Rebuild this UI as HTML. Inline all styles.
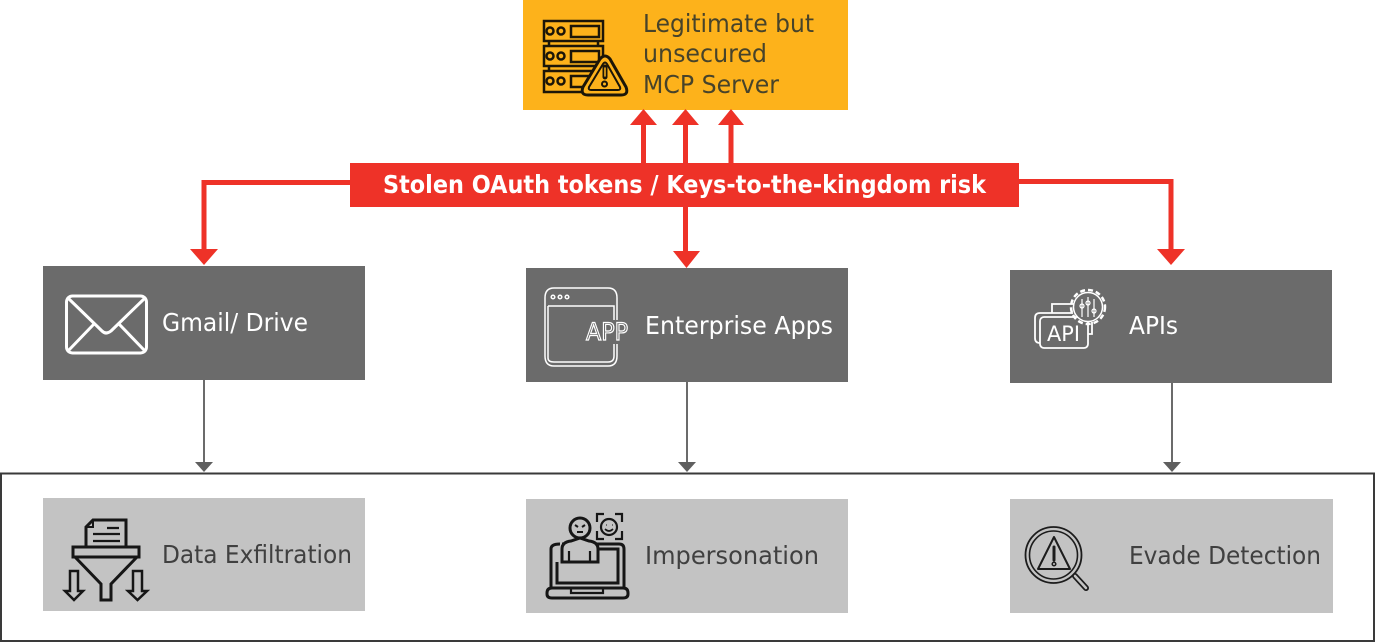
<!DOCTYPE html>
<html><head><meta charset="utf-8"><style>
html,body{margin:0;padding:0;background:#fff;width:1375px;height:642px;overflow:hidden}
svg{display:block}
text{font-family:"DejaVu Sans","Liberation Sans",sans-serif;font-size:25px}
</style></head><body>
<svg width="1375" height="642" viewBox="0 0 1375 642" xmlns="http://www.w3.org/2000/svg">
<rect width="1375" height="642" fill="#fff"/>
<!-- bottom frame -->
<rect x="1" y="473.500" width="1373" height="167.500" fill="none" stroke="#3a3a3a" stroke-width="2"/>
<!-- boxes -->
<rect x="523" y="0" width="325" height="110" fill="#fdb21b"/>
<rect x="43" y="266" width="322" height="114" fill="#6b6b6b"/>
<rect x="526" y="268" width="322" height="114" fill="#6b6b6b"/>
<rect x="1010" y="270" width="322" height="113" fill="#6b6b6b"/>
<rect x="43" y="498" width="322" height="113" fill="#c3c3c3"/>
<rect x="526" y="499" width="322" height="114" fill="#c3c3c3"/>
<rect x="1010" y="499" width="323" height="114" fill="#c3c3c3"/>
<!-- red connectors -->
<g fill="none" stroke="#ee3228" stroke-width="5">
<path d="M643.500 165V125M685.500 165V125M731 165V125"/>
<path d="M685.500 205V252"/>
<path d="M352 182.500H204V250"/>
<path d="M1017 181.500H1171V250"/>
</g>
<g fill="#ee3228">
<path d="M630 125L643.500 109L657 125Z"/>
<path d="M672 125L685.500 109L699 125Z"/>
<path d="M718 125L731 109L744 125Z"/>
<path d="M190 249L204 265L218 249Z"/>
<path d="M673 251L686.500 268L700 251Z"/>
<path d="M1157 249L1171 265L1185 249Z"/>
<rect x="350" y="163" width="669" height="44"/>
</g>
<!-- grey connectors -->
<g stroke="#6b6b6b" stroke-width="2" fill="none">
<path d="M204 380V463M687 382V463M1172 383V463"/>
</g>
<g fill="#5f5f5f">
<path d="M195 462H213L204 472Z"/>
<path d="M678 462H696L687 472Z"/>
<path d="M1163 462H1181L1172 472Z"/>
</g>
<!-- labels -->
<text x="383" y="193" fill="#fff" font-weight="bold" textLength="603" lengthAdjust="spacingAndGlyphs">Stolen OAuth tokens / Keys-to-the-kingdom risk</text>
<g fill="#47432a">
<text x="643" y="32" textLength="171" lengthAdjust="spacingAndGlyphs">Legitimate but</text>
<text x="643" y="62" textLength="124" lengthAdjust="spacingAndGlyphs">unsecured</text>
<text x="643" y="93" textLength="136" lengthAdjust="spacingAndGlyphs">MCP Server</text>
</g>
<g fill="#fff">
<text x="162" y="331" textLength="146" lengthAdjust="spacingAndGlyphs">Gmail/ Drive</text>
<text x="645" y="334" textLength="188" lengthAdjust="spacingAndGlyphs">Enterprise Apps</text>
<text x="1129" y="334" textLength="49" lengthAdjust="spacingAndGlyphs">APIs</text>
</g>
<g fill="#404040">
<text x="162" y="563" textLength="190" lengthAdjust="spacingAndGlyphs">Data Exfiltration</text>
<text x="645" y="564" textLength="174" lengthAdjust="spacingAndGlyphs">Impersonation</text>
<text x="1129" y="564" textLength="192" lengthAdjust="spacingAndGlyphs">Evade Detection</text>
</g>
<!-- server icon -->
<g fill="none" stroke="#1c1608" stroke-width="2.500">
<rect x="544" y="21" width="59" height="20"/>
<rect x="544" y="46" width="59" height="20"/>
<rect x="544" y="71" width="59" height="21"/>
<path d="M549 41v5M598 41v5M549 66v5M598 66v5"/>
<rect x="571" y="26" width="28" height="11"/>
<rect x="571" y="51" width="28" height="11"/>
<rect x="571" y="76" width="20" height="11"/>
<circle cx="550" cy="31" r="3.500"/><circle cx="561" cy="31" r="3.500"/>
<circle cx="550" cy="56" r="3.500"/><circle cx="561" cy="56" r="3.500"/>
<circle cx="550" cy="81" r="3.500"/><circle cx="561" cy="81" r="3.500"/>
<path d="M600 59Q605 53 610 59L626 87Q629 95 621 95H588Q580 95 583 87Z" fill="#fdb21b" stroke-width="3" stroke-linejoin="round"/>
<path d="M603 64Q605 61 607 64L620 87Q621 90 618 90H591Q588 90 589 87Z" stroke-width="2" stroke-linejoin="round"/>
<path d="M605 67V77" stroke-width="5" stroke-linecap="round"/>
<path d="M605 68V76" stroke-width="1.500" stroke="#fdb21b" stroke-linecap="round"/>
<circle cx="604.500" cy="84" r="2.500" stroke-width="2"/>
</g>
<!-- mail icon -->
<g fill="none" stroke="#fff" stroke-width="3" stroke-linecap="round" stroke-linejoin="round">
<rect x="66.500" y="296" width="80" height="57" rx="6"/>
<path d="M68 298L102 331Q106 335 111 331L145 298"/>
<path d="M68 351L94 324M145 351L119 324"/>
</g>
<!-- app icon -->
<g fill="none" stroke="#fff" stroke-width="1.500">
<path d="M617 320V298Q617 288 608 288H554Q545 288 545 298V356Q545 366 554 366H608Q617 366 617 356V344"/>
<path d="M548 306H614V320M548 306V358Q548 362 554 362H608Q614 362 614 356V344"/>
<circle cx="553" cy="297" r="1.800"/><circle cx="560" cy="297" r="1.800"/><circle cx="567" cy="297" r="1.800"/>
</g>
<text x="586" y="340" fill="#6b6b6b" stroke="#fff" stroke-width="1.200" style="font-size:24px" textLength="42" lengthAdjust="spacingAndGlyphs">APP</text>
<!-- api icon -->
<g fill="none" stroke="#fff" stroke-width="1.800">
<path d="M1040 343Q1035 343 1035 338V318Q1035 313 1040 313H1073"/>
<path d="M1052 313V304H1075"/>
<rect x="1040" y="317" width="48" height="31" rx="4"/>
<path d="M1092 322V334H1088"/>
</g>
<text x="1047" y="341" fill="#fff" style="font-size:21px" textLength="33" lengthAdjust="spacingAndGlyphs">API</text>
<g fill="#6b6b6b" stroke="#fff" stroke-width="1.500">
<circle cx="1088" cy="307" r="14.500"/>
</g>
<circle cx="1088" cy="307" r="17" fill="none" stroke="#fff" stroke-width="2.500" stroke-dasharray="5 3"/>
<g stroke="#fff" stroke-width="1.200" fill="none">
<path d="M1082 299V317M1088 297V317M1094 299V317"/>
<circle cx="1082" cy="306" r="2"/><circle cx="1088" cy="303" r="2"/><circle cx="1094" cy="311" r="2"/>
</g>
<!-- funnel icon -->
<g fill="none" stroke="#161616" stroke-width="3">
<path d="M86 527L93 520H126V547H86Z" fill="#c3c3c3"/>
<path d="M86 527H93V520" stroke-width="2"/>
<path d="M107 528H119M93 534H120M93 541H120" stroke-width="2.200"/>
<rect x="73" y="547" width="66" height="10"/>
<path d="M75 557L101 584V600H111V584L137 557"/>
<path d="M70 571H78V591H83L74 600L65 591H70Z" stroke-width="2.500"/>
<path d="M133 571H142V591H147L137.500 600L128 591H133Z" stroke-width="2.500"/>
</g>
<!-- impersonation icon -->
<g fill="none" stroke="#161616" stroke-width="3">
<path d="M562 544H619Q624 544 624 549V588"/>
<path d="M551 588V549Q551 544 560 544"/>
<path d="M557 562V583H618V549H598"/>
<path d="M552 588H623Q628 588 628 593V594Q628 598 623 598H552Q547 598 547 594V593Q547 588 552 588Z"/>
<path d="M571 589V593H603V589" stroke-width="2.200"/>
<path d="M562 562V549Q562 542 571 541L580 538L589 541Q598 542 598 549V562Z" fill="#c3c3c3"/>
<path d="M569 551V562M590 551V562" stroke-width="2.200"/>
<circle cx="580" cy="528" r="10"/>
<path d="M575 525L578 527M585 525L582 527M577 532H583" stroke-width="2"/>
<path d="M597 522V514H604M615 514H622V522M622 531V539H615M604 539H597V531" stroke-width="2.200"/>
<circle cx="609" cy="527" r="8" stroke-width="2.200"/>
<path d="M605 529Q609 533 613 529" stroke-width="1.600"/>
<path d="M606 525h.5M612 525h.5" stroke-width="2"/>
</g>
<!-- evade icon -->
<g fill="none" stroke="#1c1c1c">
<circle cx="1053.500" cy="555" r="28" stroke-width="1.800"/>
<circle cx="1053.500" cy="555" r="24" stroke-width="1.600"/>
<path d="M1054 537L1070 569H1038Z" stroke-width="2" stroke-linejoin="round"/>
<path d="M1054 547V560" stroke-width="3" stroke-linecap="round"/>
<circle cx="1054" cy="564" r="1.800" stroke-width="1.500"/>
<path d="M1075 576L1086 588" stroke-width="6" stroke-linecap="round"/>
<path d="M1075 576L1086 588" stroke-width="2.500" stroke="#c3c3c3" stroke-linecap="round"/>
</g>
</svg>
</body></html>
